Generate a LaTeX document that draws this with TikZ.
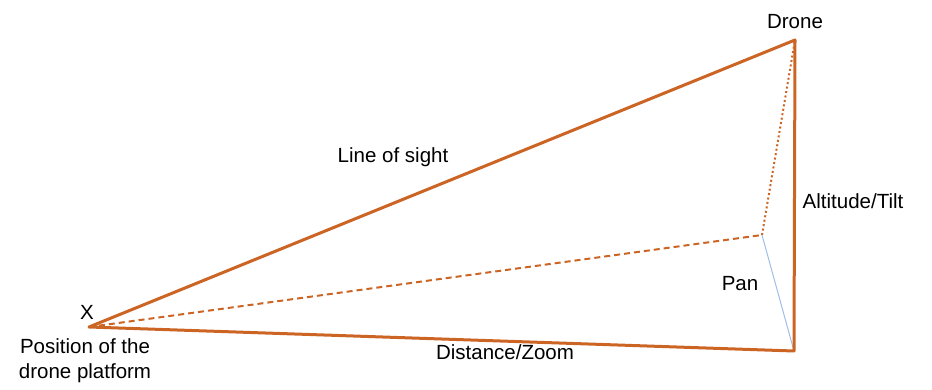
\documentclass[tikz,border=0pt]{standalone}
\usepackage{fontspec}
\setmainfont{Liberation Sans}
\usetikzlibrary{positioning}
\definecolor{sightorange}{RGB}{204,100,36}
\definecolor{panblue}{RGB}{160,190,232}
\tikzset{
  side/.style={
    draw=sightorange,
    line width=3pt,
    line join=round,
    line cap=round
  },
  guess/.style={
    draw=sightorange,
    line width=2pt,
    dash pattern=on 6pt off 4pt
  },
  dots/.style={
    draw=sightorange,
    line width=2pt,
    dash pattern=on 2pt off 2.5pt
  },
  panline/.style={
    draw=panblue,
    line width=1pt
  },
  tag/.style={
    align=center,
    inner sep=0pt,
    font=\fontsize{20.5}{25}\selectfont
  }
}

\begin{document}
\begin{tikzpicture}[x=1pt,y=-1pt]
  \useasboundingbox (0,0) rectangle (932,390);

  \coordinate (platform) at (89,327);
  \coordinate (drone) at (795,40);
  \coordinate (ground) at (794,351);
  \coordinate (aim) at (762,235);

  \draw[guess] (platform) -- (aim);
  \draw[dots] (aim) -- (drone);
  \draw[panline] (aim) -- (ground);
  \draw[side] (platform) -- (drone) -- (ground) -- cycle;

  \node[tag] (xmark) at (87,312) {X};
  \node[tag] (position) at (85,361) {Position of the\\drone platform};
  \node[tag] (dronetag) at (795,22) {Drone};
  \node[tag] (sight) at (393,157) {Line of sight};
  \node[tag] (tilt) at (853,201) {Altitude/Tilt};
  \node[tag] (pan) at (740,284) {Pan};
  \node[tag] (zoom) at (505,352) {Distance/Zoom};
\end{tikzpicture}
\end{document}
